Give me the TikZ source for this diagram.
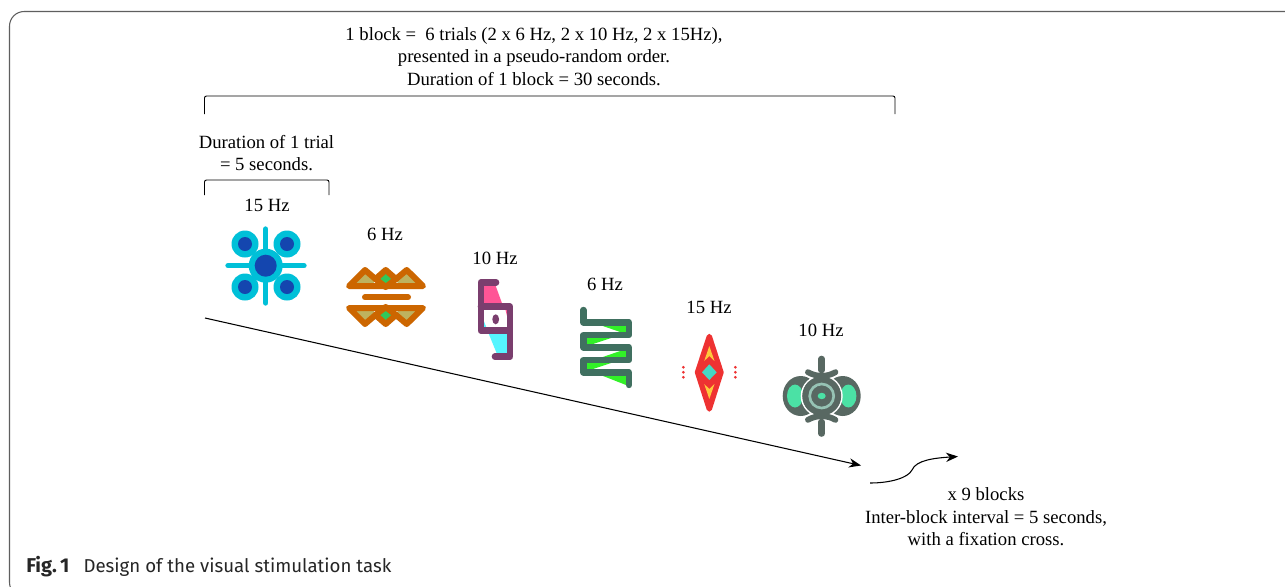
\documentclass[tikz,border=0pt]{standalone}
\usepackage{fontspec}
\setmainfont{Liberation Serif}
\newfontfamily\capfont{Fira Sans}
\definecolor{cyanA}{RGB}{0,192,216}
\definecolor{blueA}{RGB}{20,70,175}
\definecolor{orangeA}{RGB}{204,102,0}
\definecolor{oliveA}{RGB}{190,178,95}
\definecolor{greenA}{RGB}{50,200,90}
\definecolor{purpA}{RGB}{122,62,110}
\definecolor{pinkA}{RGB}{255,85,150}
\definecolor{cyanB}{RGB}{85,245,255}
\definecolor{teal4}{RGB}{64,112,96}
\definecolor{lime4}{RGB}{50,240,40}
\definecolor{redA}{RGB}{238,50,50}
\definecolor{turqA}{RGB}{70,215,195}
\definecolor{yelA}{RGB}{255,200,60}
\definecolor{grey6}{RGB}{88,104,98}
\definecolor{green6}{RGB}{75,225,165}
\definecolor{ring6}{RGB}{150,195,180}
\definecolor{frameC}{RGB}{95,95,95}
\usetikzlibrary{arrows.meta}
\tikzset{
  x=0.75pt,y=-0.75pt,
  lab/.style={font=\fontsize{14}{16.8}\selectfont,align=center,inner sep=0pt,text=black},
  arrowline/.style={draw=black,line width=0.8pt,-{Stealth[length=9pt,width=7pt]}},
  brace/.style={draw=black,line width=0.7pt,rounded corners=1.5pt},
  ic/.style={line cap=round,line join=round},
}
\begin{document}
\begin{tikzpicture}
\useasboundingbox (0,0) rectangle (1285,586);
\clip (0,0) rectangle (1285,586);
\fill[white] (0,0) rectangle (1285,586);
\draw[frameC,line width=0.8pt,rounded corners=11pt] (9.5,11.5) rectangle (1310,597);

% texts
\node[lab] (blocktext) at (534,56.5) {1 block =\ \ 6 trials (2 x 6 Hz, 2 x 10 Hz, 2 x 15Hz),\\presented in a pseudo-random order.\\Duration of 1 block = 30 seconds.};
\node[lab] (trialtext) at (266.5,153) {Duration of 1 trial\\= 5 seconds.};
\node[lab] (f1) at (267,205) {15 Hz};
\node[lab] (f2) at (385,234) {6 Hz};
\node[lab] (f3) at (495,258) {10 Hz};
\node[lab] (f4) at (605,284) {6 Hz};
\node[lab] (f5) at (709,307) {15 Hz};
\node[lab] (f6) at (821,330) {10 Hz};
\node[lab] (reptext) at (986,517) {x 9 blocks\\Inter-block interval = 5 seconds,\\with a fixation cross.};
\node[anchor=west,inner sep=0pt,font=\capfont\fontsize{14}{17}\selectfont,text=black!85] (cap) at (26,566.5) {{\fontsize{15}{17}\selectfont\bfseries Fig.\,1}\hspace{0.75em}Design of the visual stimulation task};

% brackets
\coordinate (b1a) at (204.5,114); \coordinate (b1b) at (204.5,96);
\coordinate (b1c) at (895,96);    \coordinate (b1d) at (895,114);
\draw[brace] (b1a) -- (b1b) -- (b1c) -- (b1d);
\coordinate (b2a) at (204.5,195); \coordinate (b2b) at (204.5,180);
\coordinate (b2c) at (329,180);   \coordinate (b2d) at (329,195);
\draw[brace] (b2a) -- (b2b) -- (b2c) -- (b2d);

% arrows
\coordinate (t0) at (205,318); \coordinate (t1) at (861,465.5);
\draw[arrowline] (t0) -- (t1);
\coordinate (c0) at (870,483); \coordinate (c1) at (912,470); \coordinate (c2) at (958,456.5);
\draw[arrowline] (c0) .. controls (890,483) and (908,478) .. (c1) .. controls (916,460) and (935,458) .. (c2);

% icon 1
\begin{scope}[ic]
\draw[cyanA,line width=4pt] (265.7,229) -- (265.7,303) (228,265.7) -- (304,265.7);
\foreach \p in {(245,244),(287,244),(245,287),(287,287)}{
  \fill[cyanA] \p circle (13.5);
  \fill[blueA] \p circle (7);
}
\fill[cyanA] (265.7,265.7) circle (17);
\fill[blueA] (265.7,265.7) circle (11);
\end{scope}

% icon 2
\begin{scope}[ic]
\fill[oliveA] (350,286) -- (365,270) -- (375.5,279) -- (372,286) -- cycle;
\fill[oliveA] (399,286) -- (396,279) -- (406.5,270) -- (422,286) -- cycle;
\fill[greenA] (375.5,279) -- (385.7,270) -- (396,279) -- (385.7,288) -- cycle;
\draw[orangeA,line width=4.5pt] (349,286) -- (365,270) -- (375.5,279) -- (385.7,270) -- (396,279) -- (406.7,270) -- (423,286) -- cycle;
\draw[orangeA,line width=4.5pt] (375.5,279) -- (385.7,287) -- (396,279);
\draw[orangeA,line width=4.5pt] (365,297.3) -- (408,297.3);
\fill[oliveA] (350,308) -- (365,324) -- (375.5,315) -- (372,308) -- cycle;
\fill[oliveA] (399,308) -- (396,315) -- (406.5,324) -- (422,308) -- cycle;
\fill[greenA] (375.5,315) -- (385.7,306) -- (396,315) -- (385.7,324) -- cycle;
\draw[orangeA,line width=4.5pt] (349,308) -- (365,324) -- (375.5,315) -- (385.7,324) -- (396,315) -- (406.7,324) -- (423,308) -- cycle;
\draw[orangeA,line width=4.5pt] (375.5,315) -- (385.7,307) -- (396,315);
\end{scope}

% icon 3
\begin{scope}[ic]
\fill[pinkA] (482,284) -- (495,284) -- (503,306) -- (508,306) -- (508,320) -- (505,308) -- (482,308) -- cycle;
\fill[cyanB] (488,332) -- (508,332) -- (508,354) -- (497,354) -- cycle;
\fill[cyanB] (483,319) -- (487,329) -- (483,329) -- cycle;
\draw[purpA,line width=5pt] (496,282.3) -- (481,282.3) -- (481,330.7) -- (510,330.7) -- (510,306.7) -- (481,306.7);
\draw[purpA,line width=5pt] (510,330.7) -- (510,356.7) -- (495,356.7);
\fill[purpA] (495.7,319.3) ellipse (3.4 and 5);
\end{scope}

% icon 4
\begin{scope}[ic]
\fill[lime4] (597,324) -- (626,324) -- (626,334) -- cycle;
\fill[lime4] (587,336) -- (587,346) -- (617,336) -- cycle;
\fill[lime4] (626,349) -- (626,359) -- (597,359) -- cycle;
\fill[lime4] (587,361) -- (587,371) -- (617,361) -- cycle;
\fill[lime4] (626,374) -- (626,385) -- (598,374) -- cycle;
\draw[teal4,line width=4.8pt] (583.3,310) -- (583.3,322.3) -- (629,322.3) -- (629,335) -- (583.3,335) -- (583.3,347.3) -- (629,347.3) -- (629,360) -- (583.3,360) -- (583.3,372.3) -- (629,372.3) -- (629,385);
\end{scope}

% icon 5
\begin{scope}[ic]
\fill[redA,draw=redA,line width=4pt,line join=round] (709.3,336.5) -- (721,372.3) -- (709.3,409) -- (697.5,372.3) -- cycle;
\fill[yelA] (709.3,346) -- (714.5,361) -- (709.3,356) -- (704.2,361) -- cycle;
\fill[yelA] (709.3,399) -- (714.5,384) -- (709.3,389) -- (704.2,384) -- cycle;
\fill[turqA] (709.3,364.3) -- (716.7,372.3) -- (709.3,380) -- (702,372.3) -- cycle;
\foreach \y in {367.3,372.3,377.3}{
  \fill[redA] (683.3,\y) circle (1.5);
  \fill[redA] (735.3,\y) circle (1.5);
}
\end{scope}

% icon 6
\begin{scope}[ic]
\fill[grey6] (800.7,396) ellipse (18 and 20);
\fill[grey6] (842.7,396) ellipse (18 and 20);
\fill[green6] (795,396) ellipse (8 and 11.5);
\fill[green6] (848.4,396) ellipse (8 and 11.5);
\fill[white] (821.7,396) circle (21);
\draw[white,line width=5.4pt] (821.7,396) ++(120:27.5) arc[start angle=-120,end angle=-60,radius=27.5];
\draw[white,line width=5.4pt] (821.7,396) ++(-120:27.5) arc[start angle=120,end angle=60,radius=27.5];
\fill[grey6] (821.7,396) circle (19.5);
\draw[ring6,line width=2pt] (821.7,396) circle (12);
\fill[green6] (821.7,396) ellipse (4 and 3.2);
\draw[grey6,line width=4.4pt] (821.7,396) ++(120:27.5) arc[start angle=-120,end angle=-60,radius=27.5];
\draw[grey6,line width=4.4pt] (821.7,396) ++(-120:27.5) arc[start angle=120,end angle=60,radius=27.5];
\draw[grey6,line width=5pt] (821.7,359) -- (821.7,370);
\draw[grey6,line width=5pt] (821.7,422) -- (821.7,433.5);
\end{scope}
\end{tikzpicture}
\end{document}
